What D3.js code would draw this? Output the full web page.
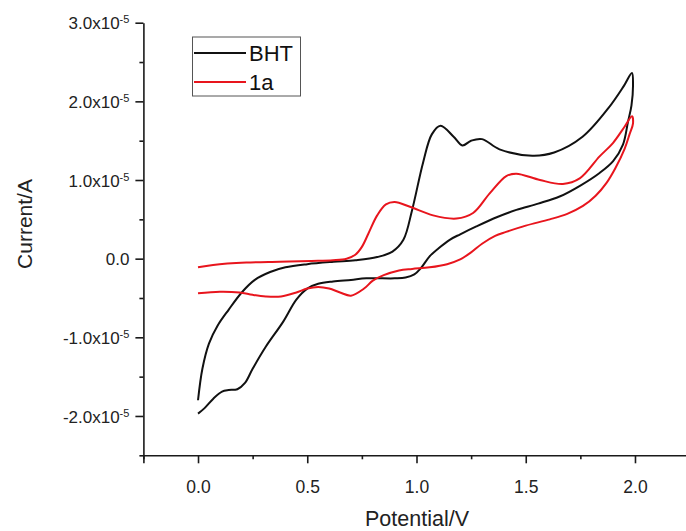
<!DOCTYPE html>
<html><head><meta charset="utf-8">
<script src="https://cdn.jsdelivr.net/npm/d3@7"></script>
<style>body{margin:0;background:#fff}svg{display:block}</style>
</head><body>
<script>
// Current values are in units of 1e-5 A
const bhtPotential = [0.000,0.020,0.050,0.090,0.140,0.200,0.260,0.330,0.400,0.500,0.620,0.720,0.820,0.890,0.940,0.980,1.030,1.070,1.110,1.170,1.210,1.250,1.300,1.380,1.530,1.630,1.760,1.880,1.950,1.986,
  1.991,1.984,1.968,1.945,1.900,1.838,1.750,1.655,1.557,1.457,1.370,1.274,1.200,1.152,1.100,1.060,1.020,0.990,0.950,0.900,0.770,0.700,0.618,0.550,0.500,0.450,0.390,0.310,0.250,0.215,0.180,0.140,0.110,0.070,0.030,0.000];
const bhtCurrent = [-1.80,-1.40,-1.08,-0.85,-0.65,-0.43,-0.27,-0.17,-0.11,-0.07,-0.04,-0.02,0.02,0.09,0.24,0.62,1.22,1.58,1.69,1.55,1.44,1.50,1.52,1.39,1.31,1.35,1.55,1.92,2.20,2.36,
  2.21,1.95,1.74,1.45,1.24,1.09,0.93,0.79,0.70,0.62,0.53,0.41,0.31,0.24,0.13,0.03,-0.12,-0.20,-0.24,-0.25,-0.25,-0.27,-0.29,-0.32,-0.38,-0.52,-0.80,-1.12,-1.40,-1.58,-1.66,-1.67,-1.69,-1.78,-1.90,-1.97];

const redPotential = [0.000,0.069,0.221,0.374,0.520,0.618,0.680,0.720,0.750,0.780,0.820,0.860,0.900,0.970,1.076,1.183,1.259,1.335,1.411,1.457,1.565,1.670,1.747,1.838,1.899,1.953,1.986,
  1.991,1.975,1.953,1.910,1.869,1.820,1.762,1.690,1.610,1.500,1.410,1.360,1.300,1.250,1.200,1.140,1.060,0.980,0.920,0.850,0.800,0.760,0.700,0.650,0.600,0.550,0.500,0.450,0.380,0.310,0.250,0.190,0.100,0.000];
const redCurrent = [-0.11,-0.08,-0.05,-0.04,-0.03,-0.02,0.00,0.05,0.15,0.32,0.55,0.69,0.72,0.66,0.55,0.51,0.58,0.83,1.05,1.08,1.00,0.95,1.02,1.30,1.47,1.68,1.81,
  1.72,1.58,1.40,1.15,0.96,0.80,0.67,0.57,0.50,0.42,0.34,0.29,0.19,0.08,-0.01,-0.07,-0.11,-0.13,-0.15,-0.21,-0.28,-0.38,-0.47,-0.43,-0.38,-0.36,-0.38,-0.43,-0.48,-0.48,-0.46,-0.43,-0.42,-0.44];

const seriesNames = ["BHT", "1a"];
const seriesColors = ["#111111", "#e8151d"];
const xMajorTicks = [0, 0.5, 1.0, 1.5, 2.0];
const xMinorTicks = [-0.25, 0.25, 0.75, 1.25, 1.75, 2.25];
const yMajorTicks = [-2, -1, 0, 1, 2, 3];
const yMinorTicks = [-2.5, -1.5, -0.5, 0.5, 1.5, 2.5];

const W = 686, H = 531;
const svg = d3.select("body").append("svg").attr("width", W).attr("height", H);
const font = "'Liberation Sans', Arial, sans-serif";

const x = d3.scaleLinear().domain([-0.25, 2.25]).range([143.4, 689.6]);
const y = d3.scaleLinear().domain([-2.5, 3.0]).range([455.3, 22.7]);

// Curves
const series = [
  d3.zip(bhtPotential, bhtCurrent),
  d3.zip(redPotential, redCurrent)
];
const line = d3.line().x(d => x(d[0])).y(d => y(d[1])).curve(d3.curveCatmullRom.alpha(0.5));
svg.selectAll("path.cv").data(series).join("path").attr("class", "cv")
  .attr("d", line).attr("fill", "none")
  .attr("stroke", (d, i) => seriesColors[i]).attr("stroke-width", 2)
  .attr("stroke-linejoin", "round");

// Axes
function styleAxis(g) {
  g.select(".domain").attr("stroke", "#1a1a1a").attr("stroke-width", 1.6);
  g.selectAll(".tick line").attr("stroke", "#1a1a1a").attr("stroke-width", 1.6);
  g.selectAll("text").attr("font-family", font).attr("font-size", 17.5).attr("fill", "#222");
}
const gx = svg.append("g").attr("transform", `translate(0,${y(-2.5)})`)
  .call(d3.axisBottom(x).tickValues(xMajorTicks).tickSize(8).tickPadding(17).tickFormat(d3.format(".1f")));
styleAxis(gx);
const gxm = svg.append("g").attr("transform", `translate(0,${y(-2.5)})`)
  .call(d3.axisBottom(x).tickValues(xMinorTicks).tickSize(4).tickFormat(""));
styleAxis(gxm); gxm.select(".domain").remove();

const gy = svg.append("g").attr("transform", `translate(${x(-0.25)},0)`)
  .call(d3.axisLeft(y).tickValues(yMajorTicks).tickSize(8).tickPadding(5).tickSizeOuter(0).tickFormat(""));
styleAxis(gy);
gy.selectAll(".tick").each(function(d) {
  const t = d3.select(this).append("text").attr("x", -14).attr("dy", "0.36em")
    .attr("text-anchor", "end").attr("font-family", font).attr("font-size", 17).attr("fill", "#222");
  if (d === 0) { t.text("0.0"); }
  else {
    t.append("tspan").text(d3.format(".1f")(d).replace("−", "-") + "x10");
    t.append("tspan").attr("dy", "-0.55em").attr("font-size", 11).text("-5");
  }
});
const gym = svg.append("g").attr("transform", `translate(${x(-0.25)},0)`)
  .call(d3.axisLeft(y).tickValues(yMinorTicks).tickSize(4).tickFormat(""));
styleAxis(gym); gym.select(".domain").remove();

// Axis titles
svg.append("text").attr("x", 417).attr("y", 526).attr("text-anchor", "middle")
  .attr("font-family", font).attr("font-size", 21.5).attr("fill", "#222").text("Potential/V");
svg.append("text").attr("transform", "translate(32,224) rotate(-90)").attr("text-anchor", "middle")
  .attr("font-family", font).attr("font-size", 21).attr("fill", "#222").text("Current/A");

// Legend
const lg = svg.append("g");
lg.append("rect").attr("x", 192.5).attr("y", 37).attr("width", 108).attr("height", 59)
  .attr("fill", "#fff").attr("stroke", "#555").attr("stroke-width", 1);
seriesNames.forEach((name, i) => {
  const yy = 53 + i * 29;
  lg.append("line").attr("x1", 194).attr("x2", 246).attr("y1", yy).attr("y2", yy)
    .attr("stroke", seriesColors[i]).attr("stroke-width", 2);
  lg.append("text").attr("x", 249).attr("y", yy + 8).attr("font-family", font)
    .attr("font-size", 22).attr("fill", "#111").text(name);
});
</script>
</body></html>
